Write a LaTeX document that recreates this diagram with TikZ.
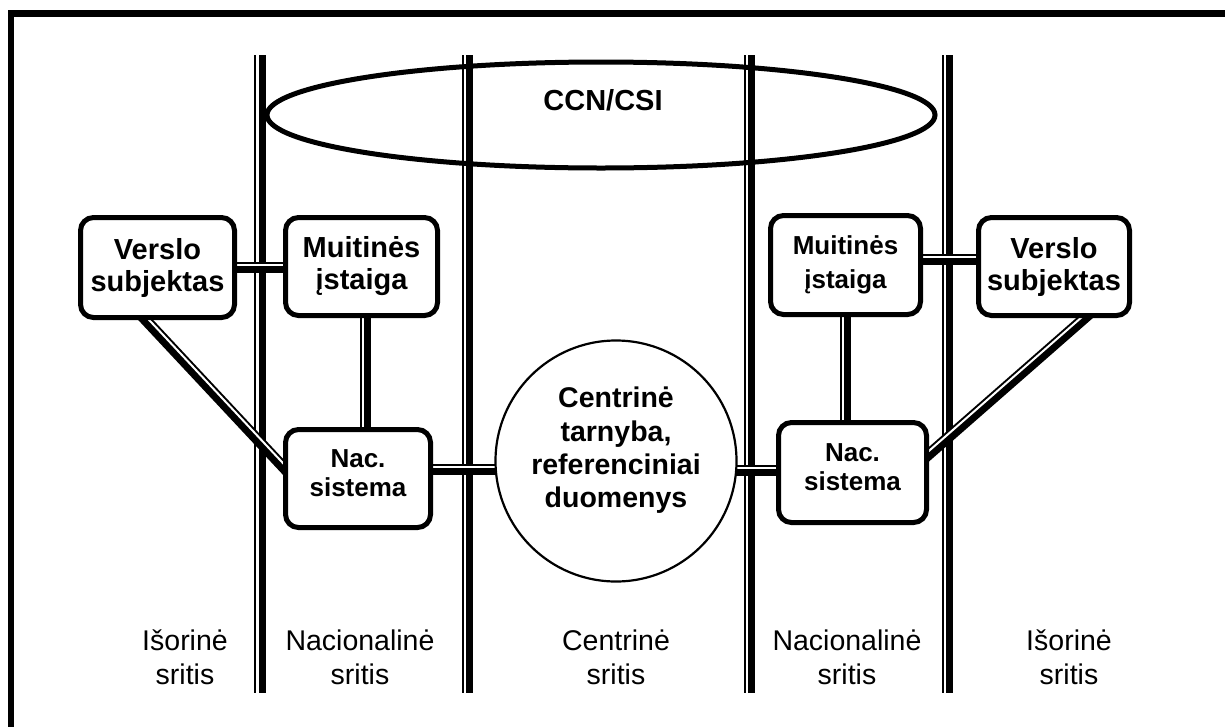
\documentclass[tikz,border=0pt]{standalone}
\usepackage{fontspec}
\setmainfont{Liberation Sans}
\usetikzlibrary{calc,shapes.geometric}
\pgfdeclarelayer{back}
\pgfdeclarelayer{mid}
\pgfsetlayers{back,mid,main}
\newcommand\dline[2]{%
  \draw[conn] (#1) -- (#2);
  \draw[gapline] ($(#1)!2.5pt!90:(#2)$) -- ($(#2)!2.5pt!-90:(#1)$);
}
\begin{document}
\begin{tikzpicture}[x=1pt,y=-1pt,
  box/.style={draw,line width=5pt,rounded corners=13pt,fill=white,inner sep=0pt,align=center,anchor=center},
  fbig/.style={font=\bfseries\fontsize{29}{32}\selectfont},
  fmu/.style={font=\bfseries\fontsize{26}{34}\selectfont},
  fnac/.style={font=\bfseries\fontsize{26}{29}\selectfont},
  conn/.style={line width=11pt},
  gapline/.style={white,line width=2pt},
  region/.style={font=\fontsize{28.5}{34}\selectfont,align=center,inner sep=0pt},
  vthin/.style={line width=2pt},
  vthick/.style={line width=7.5pt},
]
\useasboundingbox (0,0) rectangle (1225,726);

% boxes and circle
\node[box,minimum width=154,minimum height=100,fbig] (vl) at (157.5,267.5) {Verslo\\subjektas};
\node[box,minimum width=152,minimum height=98,fbig] (ml) at (361.5,266.5) {Muitinės\\įstaiga};
\node[box,minimum width=145,minimum height=98,fnac] (nl) at (358,478.5) {Nac.\\sistema\rule[-11pt]{0pt}{11pt}};
\node[box,minimum width=150,minimum height=99,fmu] (mr) at (845.5,265) {Muitinės\\įstaiga};
\node[box,minimum width=151,minimum height=98,fbig] (vr) at (1054,266.5) {Verslo\\subjektas};
\node[box,minimum width=148,minimum height=100,fnac] (nr) at (852.5,472.5) {Nac.\\sistema\rule[-11pt]{0pt}{11pt}};
\node[draw,circle,line width=2.2pt,fill=white,minimum size=241,inner sep=0pt] (circ) at (616,461) {};
\node[font=\bfseries\fontsize{28.5}{33.3}\selectfont,align=center,inner sep=0pt] (circt) at (616,450.5) {Centrinė\\tarnyba,\\referenciniai\\duomenys};

\begin{pgfonlayer}{back}
  \fill[white] (0,0) rectangle (1225,726);
  % frame
  \draw[line width=6.5pt] (1260,13.5) -- (11,13.5) -- (11,760);
  \foreach \t/\k in {255/262.5,463/469.5,744.5/751.5,942.5/949.5}{
    \draw[vthin] (\t,55) -- (\t,693);
    \draw[vthick] (\k,55) -- (\k,693);
  }
  \node[draw,ellipse,line width=5pt,minimum width=668,minimum height=106,inner sep=0pt] (ccn) at (601,115) {};
  \node[font=\bfseries\fontsize{29}{32}\selectfont,anchor=base,inner sep=0pt] (ccnt) at (603,110) {CCN/CSI};
\end{pgfonlayer}

\begin{pgfonlayer}{mid}
  \coordinate (a1) at ($(vl.east)+(-10,0)$);
  \coordinate (b1) at ($(ml.west)+(10,1)$);
  \coordinate (a2) at ($(nl.north)+(7,10)$);
  \coordinate (b2) at ($(ml.south)+(3.5,-10)$);
  \coordinate (a3) at ($(vl.south)+(-23,-12)$);
  \coordinate (b3) at ($(nl.west)+(10,-1)$);
  \coordinate (a4) at ($(nl.east)+(-10,-9)$);
  \coordinate (b4) at ($(circ.west)+(10,8.5)$);
  \coordinate (a5) at ($(circ.east)+(-10,9.5)$);
  \coordinate (b5) at ($(nr.west)+(10,-2)$);
  \coordinate (a6) at ($(mr.east)+(-10,-6)$);
  \coordinate (b6) at ($(vr.west)+(10,-7.5)$);
  \coordinate (a7) at ($(nr.north)+(-7.5,10)$);
  \coordinate (b7) at ($(mr.south)+(-0.5,-10)$);
  \coordinate (a8) at ($(nr.east)+(-13.5,-6.5)$);
  \coordinate (b8) at ($(vr.south)+(38,-6.5)$);
  \dline{a1}{b1}
  \dline{a2}{b2}
  \dline{a3}{b3}
  \dline{a4}{b4}
  \dline{a5}{b5}
  \dline{a6}{b6}
  \dline{a7}{b7}
  \dline{a8}{b8}
\end{pgfonlayer}

% region labels
\node[region] (r1) at (185,657.5) {Išorinė\\sritis};
\node[region] (r2) at (360,657.5) {Nacionalinė\\sritis};
\node[region] (r3) at (616,657.5) {Centrinė\\sritis};
\node[region] (r4) at (847,657.5) {Nacionalinė\\sritis};
\node[region] (r5) at (1069,657.5) {Išorinė\\sritis};
\end{tikzpicture}
\end{document}
